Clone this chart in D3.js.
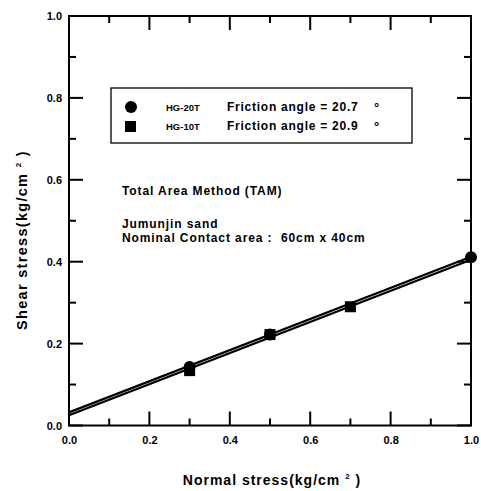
<!DOCTYPE html>
<html>
<head>
<meta charset="utf-8">
<script src="https://d3js.org/d3.v7.min.js"></script>
<style>
  body { margin: 0; background: #fff; }
  text { font-family: "Liberation Sans", Arial, sans-serif; fill: #000; }
</style>
</head>
<body>
<script>
// data
var hg20x = [0.3, 0.5, 1.0];
var hg20y = [0.143, 0.222, 0.411];
var hg10x = [0.3, 0.5, 0.7];
var hg10y = [0.134, 0.222, 0.290];
var fitX = [0, 1];
var fit20 = [0.032, 0.412];
var fit10 = [0.025, 0.405];
var majorTicks = [0, 0.2, 0.4, 0.6, 0.8, 1.0];
var minorTicks = [0.1, 0.3, 0.5, 0.7, 0.9];
var legendNames = ["HG-20T", "HG-10T"];
var legendAngles = ["Friction angle = 20.7", "Friction angle = 20.9"];

var w = 481, h = 491;
var L = 69, R = 471, T = 16, B = 425.5;

var svg = d3.select("body").append("svg").attr("width", w).attr("height", h);

var x = d3.scaleLinear().domain([0, 1]).range([L, R]);
var y = d3.scaleLinear().domain([0, 1]).range([B, T]);

// frame
svg.append("rect").attr("x", L).attr("y", T).attr("width", R - L).attr("height", B - T)
  .attr("fill", "none").attr("stroke", "#000").attr("stroke-width", 2);

// inward ticks on all four sides
var tickData = [];
majorTicks.forEach(function(v) { tickData.push({v: v, len: 14}); });
minorTicks.forEach(function(v) { tickData.push({v: v, len: 7}); });
var tw = 2;
var tg = svg.append("g").attr("fill", "#000");
tg.selectAll("rect.tb").data(tickData).enter().append("rect")
  .attr("x", function(d){ return x(d.v) - tw / 2; }).attr("y", function(d){ return B - d.len; })
  .attr("width", tw).attr("height", function(d){ return d.len; });
tg.selectAll("rect.tt").data(tickData).enter().append("rect")
  .attr("x", function(d){ return x(d.v) - tw / 2; }).attr("y", T)
  .attr("width", tw).attr("height", function(d){ return d.len; });
tg.selectAll("rect.tl").data(tickData).enter().append("rect")
  .attr("x", L).attr("y", function(d){ return y(d.v) - tw / 2; })
  .attr("width", function(d){ return d.len; }).attr("height", tw);
tg.selectAll("rect.tr").data(tickData).enter().append("rect")
  .attr("x", function(d){ return R - d.len; }).attr("y", function(d){ return y(d.v) - tw / 2; })
  .attr("width", function(d){ return d.len; }).attr("height", tw);

var fmt = d3.format(".1f");
function styleAxis(g) {
  g.select(".domain").remove();
  g.selectAll("line").remove();
  g.selectAll("text").attr("font-size", 11).attr("font-weight", "bold");
}
svg.append("g").attr("transform", "translate(0," + B + ")")
  .call(d3.axisBottom(x).tickValues(majorTicks).tickSize(0).tickPadding(11).tickFormat(fmt))
  .call(styleAxis);
svg.append("g").attr("transform", "translate(" + L + ",0)")
  .call(d3.axisLeft(y).tickValues(majorTicks).tickSize(0).tickPadding(7).tickFormat(fmt))
  .call(styleAxis);

// fit lines
var line = d3.line().x(function(d){ return x(d[0]); }).y(function(d){ return y(d[1]); });
[fit20, fit10].forEach(function(f) {
  svg.append("path").attr("d", line(fitX.map(function(v, i){ return [v, f[i]]; })))
    .attr("fill", "none").attr("stroke", "#000").attr("stroke-width", 2.2);
});

// points
svg.selectAll("circle.p").data(hg20x).enter().append("circle")
  .attr("cx", function(d){ return x(d); })
  .attr("cy", function(d, i){ return y(hg20y[i]); })
  .attr("r", 6).attr("fill", "#000");
svg.selectAll("rect.p").data(hg10x).enter().append("rect")
  .attr("x", function(d){ return x(d) - 5.5; })
  .attr("y", function(d, i){ return y(hg10y[i]) - 5.5; })
  .attr("width", 11).attr("height", 11).attr("fill", "#000");

// legend
var lg = svg.append("g");
lg.append("rect").attr("x", 111).attr("y", 88).attr("width", 301).attr("height", 55)
  .attr("fill", "#fff").attr("stroke", "#000").attr("stroke-width", 1.3);
lg.append("circle").attr("cx", 131).attr("cy", 107).attr("r", 6).attr("fill", "#000");
lg.append("rect").attr("x", 125).attr("y", 121).attr("width", 11).attr("height", 11).attr("fill", "#000");
legendNames.forEach(function(n, i) {
  var yy = 111 + i * 19;
  lg.append("text").attr("x", 166).attr("y", yy).attr("font-size", 9.5).attr("font-weight", "bold").text(n);
  lg.append("text").attr("x", 227).attr("y", yy).attr("font-size", 12).attr("font-weight", "bold")
    .attr("letter-spacing", 0.75).text(legendAngles[i]);
  lg.append("text").attr("x", 374).attr("y", yy + 1).attr("font-size", 13).attr("font-weight", "bold").text("°");
});

// annotations
var ann = svg.append("g").attr("font-size", 12).attr("font-weight", "bold").attr("letter-spacing", 0.9);
ann.append("text").attr("x", 122).attr("y", 195).text("Total Area Method (TAM)");
ann.append("text").attr("x", 122).attr("y", 228).text("Jumunjin sand");
ann.append("text").attr("x", 122).attr("y", 242).text("Nominal Contact area :\u00a0 60cm x 40cm");

// axis titles
var xt = svg.append("text").attr("x", (L + R) / 2 + 2).attr("y", 485).attr("text-anchor", "middle")
  .attr("font-size", 14).attr("font-weight", "bold").attr("letter-spacing", 1);
xt.append("tspan").text("Normal stress(kg/cm\u00a0");
xt.append("tspan").attr("font-size", 8).attr("dy", -6).text("2");
xt.append("tspan").attr("dy", 6).text("\u00a0)");

var yt = svg.append("text").attr("transform", "translate(27,240) rotate(-90)").attr("text-anchor", "middle")
  .attr("font-size", 14.5).attr("font-weight", "bold").attr("letter-spacing", 1.3);
yt.append("tspan").text("Shear stress(kg/cm\u00a0");
yt.append("tspan").attr("font-size", 8).attr("dy", -6).text("2");
yt.append("tspan").attr("dy", 6).text("\u00a0)");
</script>
</body>
</html>
